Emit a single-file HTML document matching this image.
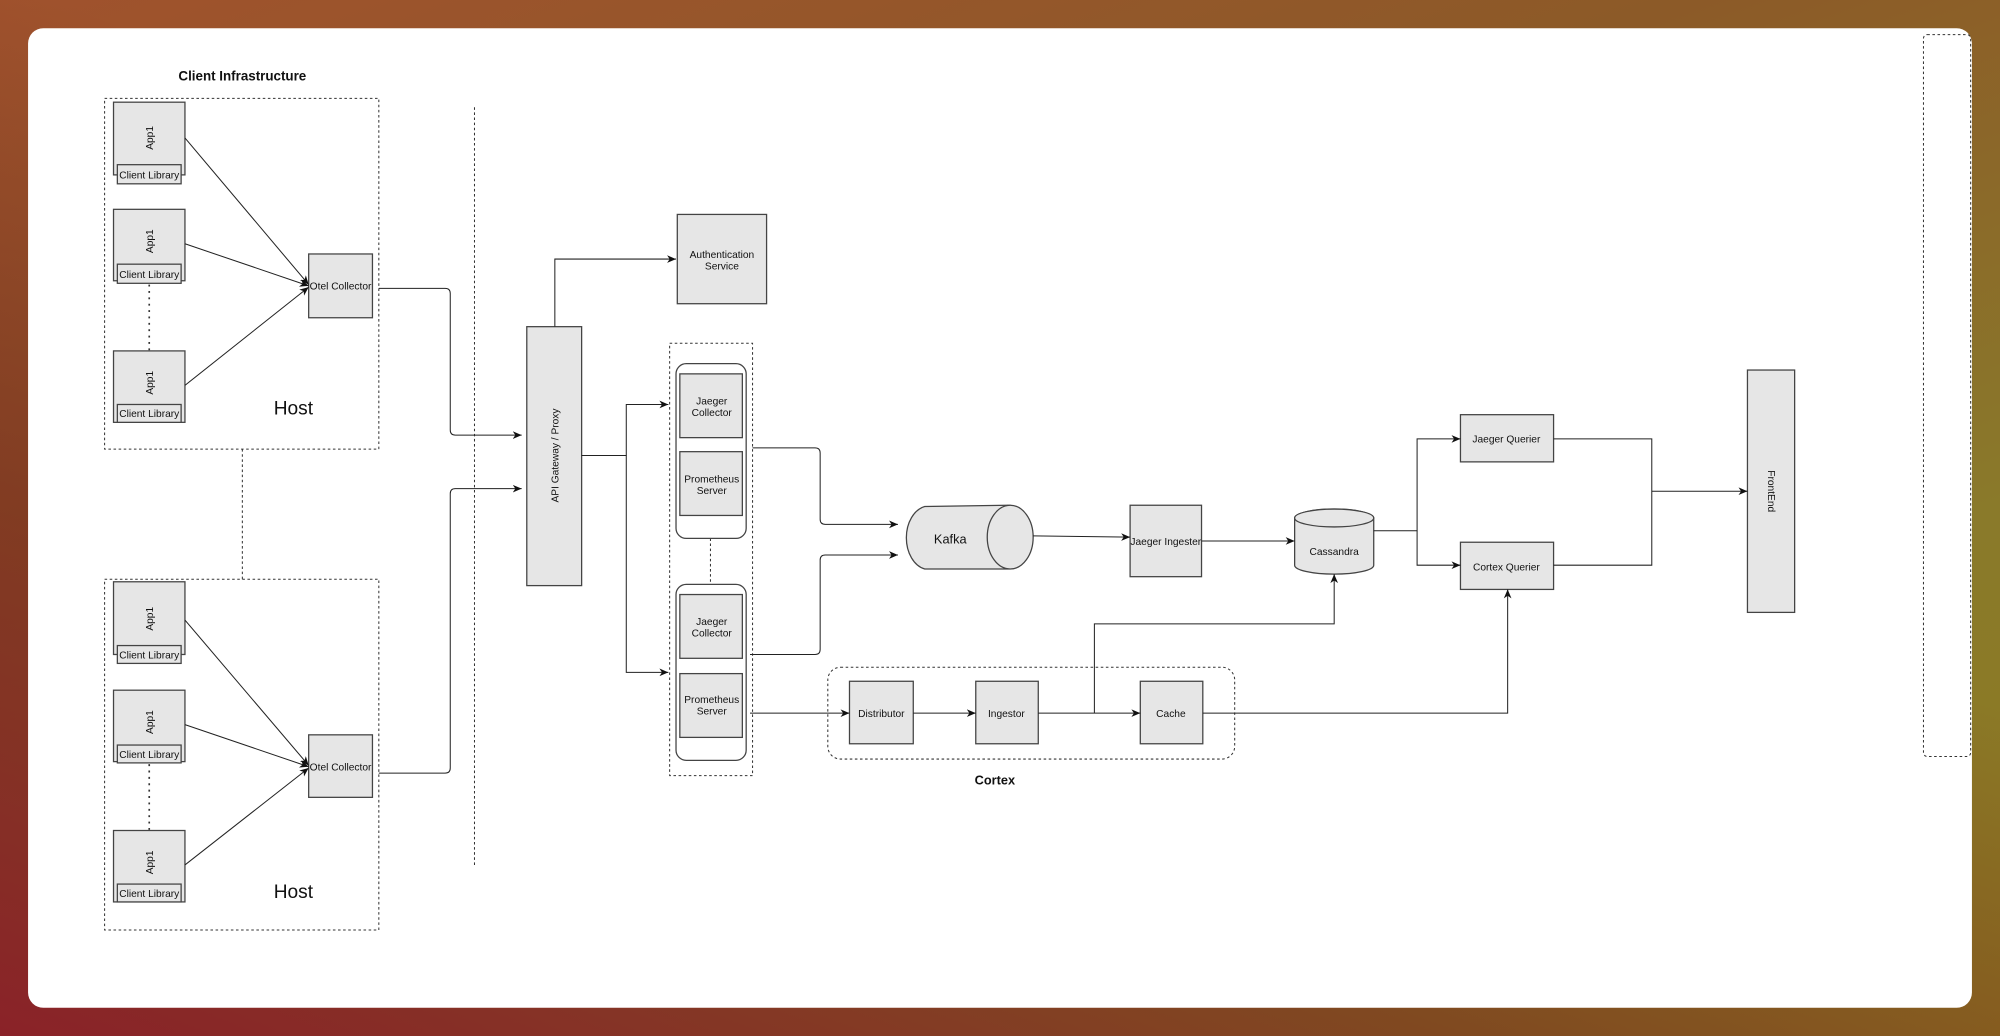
<!DOCTYPE html>
<html><head><meta charset="utf-8"><style>
html,body{margin:0;padding:0;width:2000px;height:1036px;overflow:hidden}
body{background:linear-gradient(160deg,#a0522d 0%,#8c5a28 35%,#8a7a2a 70%,#8d7a20 100%)}
.ov{position:absolute;left:0;top:0;width:2000px;height:1036px;background:linear-gradient(20deg,#8a2228 0%,rgba(120,40,30,0.6) 30%,rgba(0,0,0,0) 60%)}
svg{position:absolute;left:0;top:0}
text{font-family:"Liberation Sans",sans-serif;fill:#111}
</style></head><body><div class="ov"></div>
<svg width="2000" height="1036" viewBox="0 0 1568 812">
<defs><marker id="a" markerWidth="8" markerHeight="8" refX="7" refY="4" orient="auto" markerUnits="userSpaceOnUse"><path d="M0,1 L7,4 L0,7 L2,4 z" fill="#111"/></marker></defs>
<rect x="22" y="22" width="1524" height="768" rx="12" fill="#fff"/>
<g fill="#e6e6e6" stroke="#444" stroke-width="1">
<!-- host 1 -->
</g>
<text x="190" y="63" font-size="10.5" font-weight="bold" text-anchor="middle">Client Infrastructure</text>
<g fill="none" stroke="#333" stroke-width="0.8" stroke-dasharray="2,2">
<rect x="82" y="77" width="215" height="275"/>
<rect x="82" y="454" width="215" height="275"/>
<line x1="190" y1="352" x2="190" y2="454"/>
<line x1="372" y1="84" x2="372" y2="680"/>
<rect x="525" y="269" width="65" height="339"/>
<line x1="557" y1="422" x2="557" y2="458"/>
<rect x="649" y="523" width="319" height="72" rx="10"/>
<rect x="1508" y="27" width="37" height="566" rx="3"/>
</g>
<g stroke="#333" stroke-width="1.3" stroke-dasharray="1.5,3.5">
<line x1="117" y1="223" x2="117" y2="275"/><line x1="117" y1="599" x2="117" y2="651"/>
</g>
<g fill="#e6e6e6" stroke="#444" stroke-width="1">
<rect x="89" y="80" width="56" height="57"/><rect x="92" y="129" width="50" height="15"/>
<rect x="89" y="164" width="56" height="56"/><rect x="92" y="207" width="50" height="15"/>
<rect x="89" y="275" width="56" height="56"/><rect x="92" y="317" width="50" height="14"/>
<rect x="89" y="456" width="56" height="57"/><rect x="92" y="506" width="50" height="14"/>
<rect x="89" y="541" width="56" height="56"/><rect x="92" y="584" width="50" height="14"/>
<rect x="89" y="651" width="56" height="56"/><rect x="92" y="693" width="50" height="14"/>
<rect x="242" y="199" width="50" height="50"/><rect x="242" y="576" width="50" height="49"/>
<rect x="413" y="256" width="43" height="203"/>
<rect x="531" y="168" width="70" height="70"/>
<rect x="530" y="285" width="55" height="137" rx="8" fill="#fff"/>
<rect x="530" y="458" width="55" height="138" rx="8" fill="#fff"/>
<rect x="533" y="293" width="49" height="50"/><rect x="533" y="354" width="49" height="50"/>
<rect x="533" y="466" width="49" height="50"/><rect x="533" y="528" width="49" height="50"/>
<rect x="886" y="396" width="56" height="56"/>
<rect x="1145" y="325" width="73" height="37"/><rect x="1145" y="425" width="73" height="37"/>
<rect x="1370" y="290" width="37" height="190"/>
<rect x="666" y="534" width="50" height="49"/><rect x="765" y="534" width="49" height="49"/><rect x="894" y="534" width="49" height="49"/>
<path d="M725,397 L790,396 A18,25 0 0 1 790,446 L725,446 A18,25 0 0 1 725,397 z"/>
<ellipse cx="792" cy="421" rx="18" ry="25"/>
<path d="M1015,406 A31,7 0 0 1 1077,406 L1077,443 A31,7 0 0 1 1015,443 z"/>
<ellipse cx="1046" cy="406" rx="31" ry="7"/>
</g>
<g font-size="8" text-anchor="middle">
<text transform="translate(120,108) rotate(-90)">App1</text>
<text transform="translate(120,189) rotate(-90)">App1</text>
<text transform="translate(120,300) rotate(-90)">App1</text>
<text transform="translate(120,485) rotate(-90)">App1</text>
<text transform="translate(120,566) rotate(-90)">App1</text>
<text transform="translate(120,676) rotate(-90)">App1</text>
<text x="117" y="140">Client Library</text><text x="117" y="218">Client Library</text><text x="117" y="327">Client Library</text>
<text x="117" y="516">Client Library</text><text x="117" y="594">Client Library</text><text x="117" y="703">Client Library</text>
<text x="267" y="227">Otel Collector</text><text x="267" y="604">Otel Collector</text>
<text transform="translate(438,357) rotate(-90)">API Gateway / Proxy</text>
<text x="566" y="202">Authentication</text><text x="566" y="211">Service</text>
<text x="558" y="317">Jaeger</text><text x="558" y="326">Collector</text>
<text x="558" y="378">Prometheus</text><text x="558" y="387">Server</text>
<text x="558" y="490">Jaeger</text><text x="558" y="499">Collector</text>
<text x="558" y="551">Prometheus</text><text x="558" y="560">Server</text>
<text x="914" y="427">Jaeger Ingester</text>
<text x="1046" y="435">Cassandra</text>
<text x="1181" y="347">Jaeger Querier</text><text x="1181" y="447">Cortex Querier</text>
<text transform="translate(1386,385) rotate(90)">FrontEnd</text>
<text x="691" y="562">Distributor</text><text x="789" y="562">Ingestor</text><text x="918" y="562">Cache</text>
</g>
<text x="745" y="426" font-size="10" text-anchor="middle">Kafka</text>
<text x="230" y="325" font-size="15" text-anchor="middle">Host</text>
<text x="230" y="704" font-size="15" text-anchor="middle">Host</text>
<text x="780" y="615" font-size="10" font-weight="bold" text-anchor="middle">Cortex</text>
<g fill="none" stroke="#222" stroke-width="0.8" marker-end="url(#a)">
<line x1="145" y1="108" x2="242" y2="223"/><line x1="145" y1="191" x2="242" y2="224"/><line x1="145" y1="302" x2="242" y2="225"/>
<line x1="145" y1="486" x2="242" y2="600"/><line x1="145" y1="568" x2="242" y2="601"/><line x1="145" y1="678" x2="242" y2="602"/>
<path d="M297,226 H349 Q353,226 353,230 V337 Q353,341 357,341 H409"/>
<path d="M297,606 H349 Q353,606 353,602 V387 Q353,383 357,383 H409"/>
<path d="M435,256 V203 H530"/>
<path d="M456,357 H491 V317 H524"/><path d="M491,357 V527 H524"/>
<path d="M590,351 H639 Q643,351 643,355 V407 Q643,411 647,411 H704"/>
<path d="M588,513 H639 Q643,513 643,509 V439 Q643,435 647,435 H704"/>
<path d="M810,420 L886,421"/><path d="M942,424 H1015"/>
<path d="M1077,416 H1111 V344 H1145"/><path d="M1111,416 V443 H1145"/>
<path d="M1295,385 H1370"/>
<path d="M588,559 H666"/><path d="M716,559 H765"/><path d="M814,559 H894"/>
<path d="M858,559 V489 H1046 V450"/>
<path d="M943,559 H1182 V462"/>
</g>
<g fill="none" stroke="#222" stroke-width="0.8"><path d="M1218,344 H1295 V443 H1218"/></g>
</svg></body></html>
